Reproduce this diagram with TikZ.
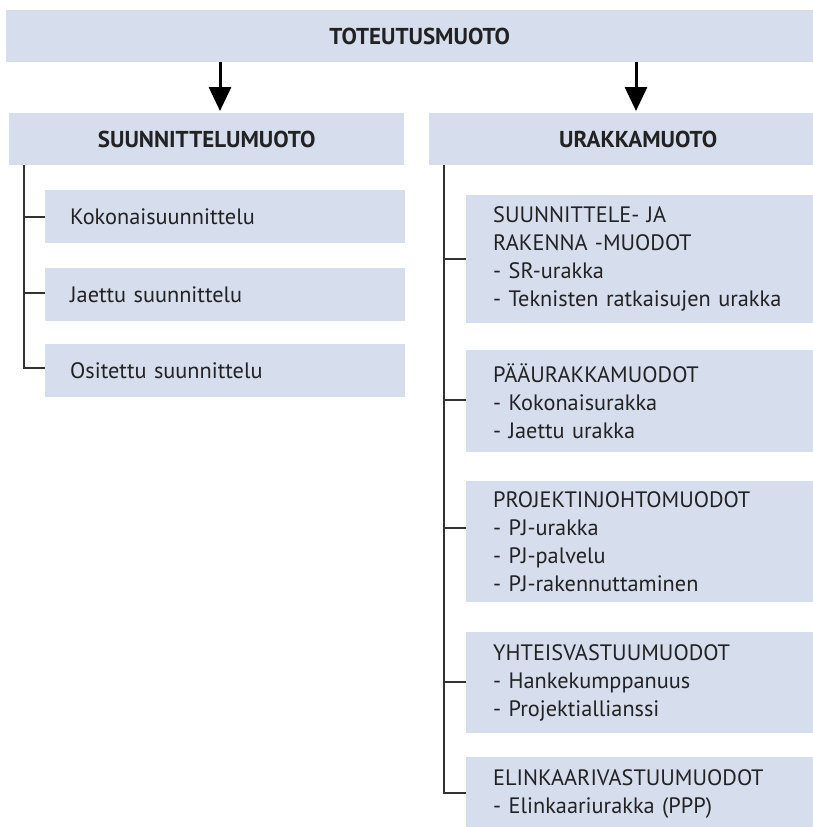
\documentclass[tikz,border=0pt]{standalone}
\usepackage{fontspec}
\setmainfont{PT Sans}
\usetikzlibrary{arrows.meta}
\definecolor{boxfill}{RGB}{214,221,236}
\definecolor{ink}{RGB}{34,34,36}
\definecolor{linecol}{RGB}{50,50,50}
\tikzset{
  box/.style={fill=boxfill, draw=none, anchor=north west, inner ysep=0pt, text=ink},
  headbox/.style={box, font=\fontsize{23}{26}\selectfont\bfseries, inner xsep=0pt, align=center},
  itembox/.style={box, align=left, font=\fontsize{22.3}{28}\selectfont},
  conn/.style={draw=linecol, line width=2pt},
  downarrow/.style={draw=black, line width=3pt, -{Triangle[length=24pt,width=22pt]}, shorten >=0pt}
}
\begin{document}
\begin{tikzpicture}[x=1pt,y=-1pt]
\useasboundingbox (0,0) rectangle (813,827);
% top
\node[headbox, minimum width=815pt, minimum height=52pt] (top) at (6,10) {\hspace*{12pt}TOTEUTUSMUOTO};
\node[headbox, minimum width=395pt, minimum height=52pt] (sm) at (9,113) {SUUNNITTELUMUOTO};
\node[headbox, minimum width=400pt, minimum height=52pt] (um) at (429,113) {\hspace*{18pt}URAKKAMUOTO};
\coordinate (a1s) at (220,62);
\coordinate (a1e) at (220,111);
\coordinate (a2s) at (636,62);
\coordinate (a2e) at (636,111);
\draw[downarrow] (a1s) -- (a1e);
\draw[downarrow] (a2s) -- (a2e);
% left column
\node[itembox, minimum width=360pt, minimum height=53pt, inner xsep=25pt, text width=310pt] (k1) at (45,190) {Kokonaisuunnittelu};
\node[itembox, minimum width=360pt, minimum height=53pt, inner xsep=25pt, text width=310pt] (k2) at (45,268) {Jaettu suunnittelu};
\node[itembox, minimum width=360pt, minimum height=53pt, inner xsep=25pt, text width=310pt] (k3) at (45,344) {Ositettu suunnittelu};
\coordinate (ls) at (24,165);
\coordinate (lt1) at (24,217);
\coordinate (lt2) at (24,293);
\coordinate (lt3) at (24,368);
\draw[conn] (ls) -- (lt3) -- (lt3-|k3.west);
\draw[conn] (lt1) -- (lt1-|k1.west);
\draw[conn] (lt2) -- (lt2-|k2.west);
% right column
\node[itembox, minimum width=360pt, minimum height=128pt, inner xsep=27pt, text width=306pt] (r1) at (466,195) {SUUNNITTELE- JA\\RAKENNA -MUODOT\\- SR-urakka\\- Teknisten ratkaisujen urakka};
\node[itembox, minimum width=360pt, minimum height=102pt, inner xsep=27pt, text width=306pt] (r2) at (466,350) {PÄÄURAKKAMUODOT\\- Kokonaisurakka\\- Jaettu urakka};
\node[itembox, minimum width=360pt, minimum height=121pt, inner xsep=27pt, text width=306pt] (r3) at (466,481) {PROJEKTINJOHTOMUODOT\\- PJ-urakka\\- PJ-palvelu\\- PJ-rakennuttaminen};
\node[itembox, minimum width=360pt, minimum height=101pt, inner xsep=27pt, text width=306pt] (r4) at (466,632) {YHTEISVASTUUMUODOT\\- Hankekumppanuus\\- Projektiallianssi};
\node[itembox, minimum width=360pt, minimum height=74pt, inner xsep=27pt, text width=306pt] (r5) at (466,757) {ELINKAARIVASTUUMUODOT\\- Elinkaariurakka (PPP)};
\coordinate (rs) at (444,165);
\coordinate (rt1) at (444,259);
\coordinate (rt2) at (444,400);
\coordinate (rt3) at (444,528);
\coordinate (rt4) at (444,682);
\coordinate (rt5) at (444,793);
\draw[conn] (rs) -- (rt5) -- (rt5-|r5.west);
\draw[conn] (rt1) -- (rt1-|r1.west);
\draw[conn] (rt2) -- (rt2-|r2.west);
\draw[conn] (rt3) -- (rt3-|r3.west);
\draw[conn] (rt4) -- (rt4-|r4.west);
\end{tikzpicture}
\end{document}
